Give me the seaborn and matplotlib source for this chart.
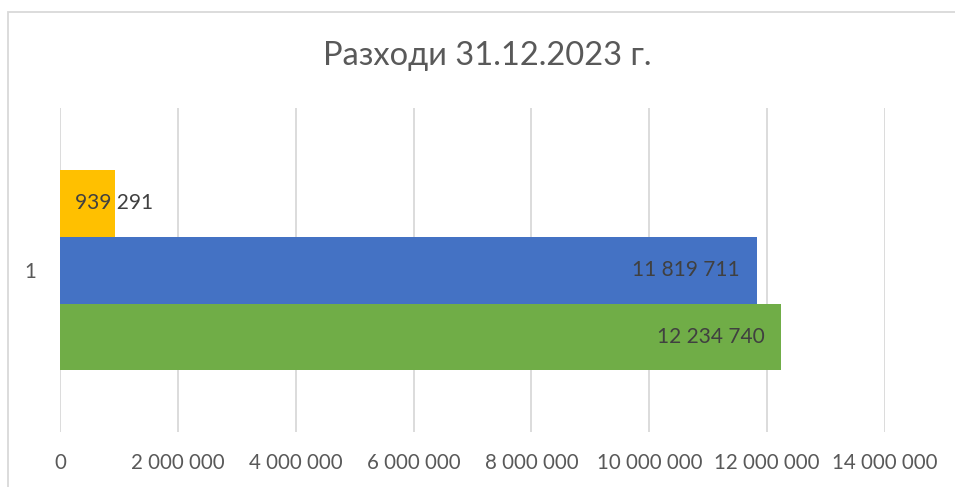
import pandas as pd
import matplotlib
matplotlib.use("Agg")
import matplotlib.pyplot as plt
import seaborn as sns
from matplotlib.patches import Rectangle

# Data
categories = ["1"]
series_names = ["Серия 3", "Серия 2", "Серия 1"]
series_values = [939291, 11819711, 12234740]
series_colors = ["#FFC000", "#4472C4", "#70AD47"]
x_ticks = [0, 2000000, 4000000, 6000000, 8000000, 10000000, 12000000, 14000000]
title = "Разходи 31.12.2023 г."

df = pd.DataFrame({
    "category": categories * len(series_names),
    "series": series_names,
    "value": series_values,
})

sns.set_theme(style="white")
plt.rcParams["font.family"] = ["Lato", "DejaVu Sans"]

fig = plt.figure(figsize=(9.55, 4.87), dpi=100)
ax = fig.add_axes([0.0628, 0.113, 0.8639, 0.665])

sns.barplot(data=df, y="category", x="value", hue="series",
            hue_order=series_names, palette=series_colors,
            orient="h", width=0.62, gap=0, saturation=1,
            linewidth=0, legend=False, ax=ax)

ax.set_xlim(0, 14000000)
ax.set_ylim(0.5, -0.5)
ax.set_xticks(x_ticks)
ax.set_xticklabels([f"{v:,}".replace(",", " ") for v in x_ticks])
ax.set_xlabel("")
ax.set_ylabel("")
ax.grid(axis="x", color="#D9D9D9", linewidth=1.3)
ax.grid(axis="y", visible=False)
ax.set_axisbelow(True)
for s in ax.spines.values():
    s.set_visible(False)
ax.tick_params(axis="x", length=0, pad=15, labelsize=14.8, labelcolor="#595959")
ax.tick_params(axis="y", length=0, pad=17, labelsize=14.8, labelcolor="#595959")

# data labels near the bar ends
for cont, name in zip(ax.containers, series_names):
    for bar in cont:
        w = bar.get_width()
        yc = bar.get_y() + bar.get_height() / 2
        txt = f"{int(round(w)):,}".replace(",", " ")
        if w < 2000000:
            ax.annotate(txt, (w, yc), xytext=(-1, 0), textcoords="offset points",
                        ha="center", va="center", fontsize=15, color="#404040")
        else:
            ax.annotate(txt, (w, yc), xytext=(-12, 0), textcoords="offset points",
                        ha="right", va="center", fontsize=15, color="#404040")

fig.text(0.51, 0.885, title, ha="center", va="center", fontsize=23.5, color="#595959")

# chart area border
fig.add_artist(Rectangle((8 / 955, -0.1), 1.2, 0.975 + 0.1, transform=fig.transFigure,
                         fill=False, edgecolor="#D9D9D9", linewidth=1.3))

fig.savefig("out.png", dpi=100, facecolor="white")
